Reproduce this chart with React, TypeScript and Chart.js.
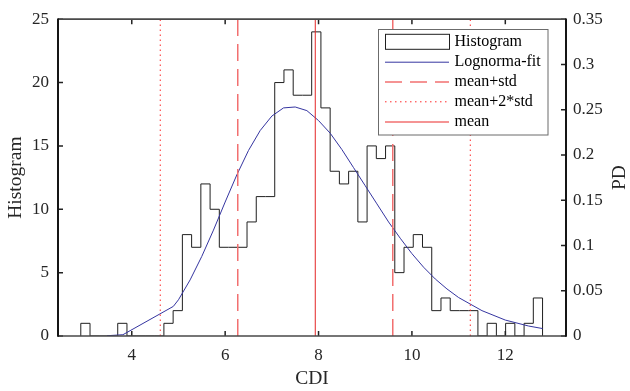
import React, { useEffect, useRef } from "react";
import { Chart, registerables } from "chart.js";

Chart.register(...registerables);

// ---- data ----
const binStart = 2.908;
const binWidth = 0.1978;
const counts = [
  1, 0, 0, 0, 1, 0, 0, 0, 0, 1,
  2, 8, 7, 12, 10, 7, 7, 7, 9, 11,
  11, 20, 21, 19, 19, 24, 18, 13, 12, 13,
  9, 15, 14, 15, 5, 7, 8, 7, 2, 3,
  2, 2, 2, 0, 1, 0, 1, 0, 1, 3,
];

const fitX = [
  3.47, 3.81, 4.89, 5.0, 5.25, 5.5, 5.75, 6.0, 6.25, 6.5, 6.75, 7.0, 7.25, 7.5,
  7.75, 8.0, 8.25, 8.5, 8.75, 9.0, 9.25, 9.5, 9.75, 10.0, 10.25, 10.5, 10.75,
  11.0, 11.5, 12.0, 12.5, 12.8,
];
const fitPD = [
  0.0003, 0.0014, 0.0327, 0.040, 0.062, 0.088, 0.117, 0.148, 0.178, 0.205,
  0.227, 0.243, 0.252, 0.253, 0.249, 0.238, 0.224, 0.206, 0.186, 0.166, 0.146,
  0.126, 0.108, 0.091, 0.076, 0.063, 0.052, 0.0425, 0.028, 0.0176, 0.011,
  0.0082,
];

const meanLine = 7.93;
const stdLines = [6.27, 9.59];
const std2Lines = [4.61, 11.25];

const xTicks = [4, 6, 8, 10, 12];
const yTicks = [0, 5, 10, 15, 20, 25];
const pdTicks = [0, 0.05, 0.1, 0.15, 0.2, 0.25, 0.3, 0.35];

const legendLabels = ["Histogram", "Lognorma-fit", "mean+std", "mean+2*std", "mean"];

// ---- styles ----
const FONT = "'Liberation Serif', 'Times New Roman', serif";
const TXT = "#262626";
const HIST_C = "#1f1f1f";
const FIT_C = "#3535a0";
const DASH_C = "#f27070";
const DOT_C = "#ff2a2a";
const MEAN_C = "#e42626";
const DASH = [17, 8];
const DOT = [1.5, 3.5];

export default function App() {
  const ref = useRef<HTMLCanvasElement | null>(null);

  useEffect(() => {
    document.body.style.margin = "0";
    const canvas = ref.current;
    if (!canvas) return;

    const edges = counts.map((_, i) => binStart + i * binWidth);
    const lastEdge = binStart + counts.length * binWidth;
    const histPoints = [
      { x: edges[0], y: 0 },
      ...counts.map((c, i) => ({ x: edges[i], y: c })),
      { x: lastEdge, y: 0 },
    ];
    const fitPoints = fitX.map((x, i) => ({ x, y: fitPD[i] }));
    const vline = (x: number) => [
      { x, y: 0 },
      { x, y: 25 },
    ];

    const baseLine = {
      pointRadius: 0,
      pointHoverRadius: 0,
      fill: false,
      tension: 0,
    };

    const datasets: any[] = [
      {
        ...baseLine,
        label: "Histogram",
        data: histPoints,
        stepped: "before",
        borderColor: HIST_C,
        borderWidth: 1,
        yAxisID: "y",
        order: 9,
      },
      {
        ...baseLine,
        label: "Lognorma-fit",
        data: fitPoints,
        borderColor: FIT_C,
        borderWidth: 1,
        yAxisID: "y2",
        order: 8,
      },
      ...stdLines.map((x, k) => ({
        ...baseLine,
        label: "mean+std" + k,
        data: vline(x),
        borderColor: DASH_C,
        borderWidth: 1.5,
        borderDash: DASH,
        yAxisID: "y",
        order: 6,
      })),
      ...std2Lines.map((x, k) => ({
        ...baseLine,
        label: "mean+2*std" + k,
        data: vline(x),
        borderColor: DOT_C,
        borderWidth: 1,
        borderDash: DOT,
        yAxisID: "y",
        order: 5,
      })),
      {
        ...baseLine,
        label: "mean",
        data: vline(meanLine),
        borderColor: MEAN_C,
        borderWidth: 1,
        yAxisID: "y",
        order: 4,
      },
    ];

    const framePlugin = {
      id: "frameAndLegend",
      afterDraw(chart: any) {
        const { ctx, chartArea: a, scales } = chart;
        const L = a.left, R = a.right, T = a.top, B = a.bottom;
        ctx.save();
        // inward ticks
        ctx.strokeStyle = "#222";
        ctx.lineWidth = 1.5;
        ctx.setLineDash([]);
        ctx.beginPath();
        xTicks.forEach((v) => {
          const px = scales.x.getPixelForValue(v);
          ctx.moveTo(px, B);
          ctx.lineTo(px, B - 5);
          ctx.moveTo(px, T);
          ctx.lineTo(px, T + 5);
        });
        yTicks.forEach((v) => {
          const py = scales.y.getPixelForValue(v);
          ctx.moveTo(L, py);
          ctx.lineTo(L + 5, py);
        });
        pdTicks.forEach((v) => {
          const py = scales.y2.getPixelForValue(v);
          ctx.moveTo(R, py);
          ctx.lineTo(R - 5, py);
        });
        ctx.stroke();

        // frame
        ctx.strokeStyle = "#4a4a4a";
        ctx.lineWidth = 1.7;
        ctx.beginPath();
        ctx.moveTo(L, T);
        ctx.lineTo(R, T);
        ctx.moveTo(L, B);
        ctx.lineTo(R, B);
        ctx.stroke();
        ctx.strokeStyle = "#151515";
        ctx.lineWidth = 2;
        ctx.beginPath();
        ctx.moveTo(L, T - 0.8);
        ctx.lineTo(L, B + 0.8);
        ctx.moveTo(R, T - 0.8);
        ctx.lineTo(R, B + 0.8);
        ctx.stroke();

        // right axis title
        ctx.save();
        ctx.translate(620, (T + B) / 2);
        ctx.rotate(-Math.PI / 2);
        ctx.fillStyle = TXT;
        ctx.font = `19.5px ${FONT}`;
        ctx.textAlign = "center";
        ctx.textBaseline = "middle";
        ctx.fillText("PD", 0, 0);
        ctx.restore();

        // legend
        const bx = 378.5, by = 29.5, bw = 169.5, bh = 105.5;
        ctx.fillStyle = "#ffffff";
        ctx.fillRect(bx, by, bw, bh);
        ctx.strokeStyle = "#6b6b6b";
        ctx.lineWidth = 1;
        ctx.strokeRect(bx, by, bw, bh);
        const rows = [41.8, 62.2, 82.0, 101.8, 122.0];
        const sx0 = 385, sx1 = 449;
        // histogram sample
        ctx.strokeStyle = HIST_C;
        ctx.lineWidth = 1;
        ctx.strokeRect(sx0 + 0.5, rows[0] - 7.5, sx1 - sx0, 15);
        const sample = (y: number, color: string, w: number, dash: number[]) => {
          ctx.strokeStyle = color;
          ctx.lineWidth = w;
          ctx.setLineDash(dash);
          ctx.beginPath();
          ctx.moveTo(sx0, y);
          ctx.lineTo(sx1, y);
          ctx.stroke();
        };
        sample(rows[1], FIT_C, 1, []);
        sample(rows[2], DASH_C, 1.5, DASH);
        sample(rows[3], DOT_C, 1, DOT);
        sample(rows[4], DASH_C, 1.5, []);
        ctx.setLineDash([]);
        ctx.fillStyle = "#000";
        ctx.font = `16px ${FONT}`;
        ctx.textAlign = "left";
        ctx.textBaseline = "middle";
        legendLabels.forEach((t, i) => ctx.fillText(t, 454.5, rows[i]));
        ctx.restore();
      },
    };

    const tickFont = { family: FONT, size: 17 };
    const titleFont = { family: FONT, size: 19.5, lineHeight: 1.2 };

    const chart = new Chart(canvas, {
      type: "line",
      data: { datasets },
      options: {
        responsive: false,
        animation: false,
        events: [],
        layout: { padding: { top: 15, left: 0, right: 0, bottom: 0 } },
        plugins: {
          legend: { display: false },
          tooltip: { enabled: false },
        },
        scales: {
          x: {
            type: "linear",
            min: 2.42,
            max: 13.3,
            afterBuildTicks: (s: any) => {
              s.ticks = xTicks.map((v) => ({ value: v }));
            },
            afterFit: (s: any) => {
              s.height = 55;
            },
            grid: { display: false, drawTicks: false },
            border: { display: false },
            ticks: {
              padding: 9,
              font: tickFont,
              color: TXT,
              maxRotation: 0,
              autoSkip: false,
              callback: (v: any) => String(v),
            },
            title: {
              display: true,
              text: "CDI",
              font: titleFont,
              color: TXT,
              padding: { top: 0, bottom: 0 },
            },
          },
          y: {
            type: "linear",
            position: "left",
            min: 0,
            max: 25,
            afterBuildTicks: (s: any) => {
              s.ticks = yTicks.map((v) => ({ value: v }));
            },
            afterFit: (s: any) => {
              s.width = 58;
            },
            grid: { display: false, drawTicks: false },
            border: { display: false },
            ticks: {
              padding: 9,
              font: tickFont,
              color: TXT,
              autoSkip: false,
              callback: (v: any) => String(v),
            },
            title: {
              display: true,
              text: "Histogram",
              font: titleFont,
              color: TXT,
              padding: { top: 4, bottom: 0 },
            },
          },
          y2: {
            type: "linear",
            position: "right",
            min: 0,
            max: 0.35,
            afterBuildTicks: (s: any) => {
              s.ticks = pdTicks.map((v) => ({ value: v }));
            },
            afterFit: (s: any) => {
              s.width = 64;
            },
            grid: { display: false, drawTicks: false },
            border: { display: false },
            ticks: {
              padding: 7,
              font: tickFont,
              color: TXT,
              autoSkip: false,
              callback: (v: any) => String(v),
            },
          },
        },
      } as any,
      plugins: [framePlugin],
    });

    return () => chart.destroy();
  }, []);

  return (
    <div style={{ width: 630, height: 391 }}>
      <canvas ref={ref} width={630} height={391} style={{ display: "block" }} />
    </div>
  );
}
